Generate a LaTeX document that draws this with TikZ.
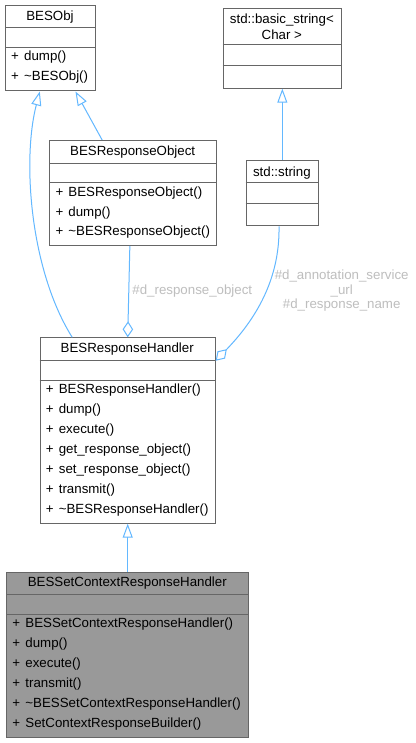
\documentclass[tikz,border=0pt]{standalone}
\usepackage{fontspec}
\setmainfont{Liberation Sans}
\usetikzlibrary{arrows.meta}
\definecolor{boxgray}{HTML}{666666}
\definecolor{edgeblue}{HTML}{63B8FF}
\definecolor{lblgray}{HTML}{BEBEBE}
\definecolor{darkfill}{HTML}{999999}
\newcommand\plusm{+\hspace{1.5pt} }
\tikzset{
  cls/.style={draw=boxgray, line width=1pt, inner sep=0pt, anchor=north west, fill=white},
  clsdark/.style={cls, fill=darkfill},
  divline/.style={draw=boxgray, line width=1pt},
  ttl/.style={inner sep=0pt, anchor=center},
  mth/.style={inner sep=0pt, anchor=west},
  elbl/.style={inner sep=0pt, anchor=center, text=lblgray},
  edge/.style={draw=edgeblue, line width=1pt},
  inh/.style={-{Triangle[open, length=14pt, width=10pt, fill=white, line width=1pt]}},
  agg/.style={-{Diamond[open, length=16pt, width=10.5pt, fill=white, line width=1pt]}},
}
\begin{document}
\begin{tikzpicture}[x=1pt, y=-1pt, font=\fontsize{13.3}{16}\selectfont]
\useasboundingbox (0,0) rectangle (415,743);
\fill[white] (0,0) rectangle (415,743);

% BESObj
\node[cls, minimum width=90pt, minimum height=85.5pt] (besobj) at (5,5) {};
\draw[divline] (5,27.5) -- (95,27.5);
\draw[divline] (5,47.7) -- (95,47.7);
\node[ttl] (besobjT) at (50,17) {BESObj};
\node[mth] (besobjM1) at (11,57.5) {\plusm dump()};
\node[mth] (besobjM2) at (11,77.5) {\plusm \textasciitilde BESObj()};

% std::basic_string< Char >
\node[cls, minimum width=118.3pt, minimum height=80pt] (bstr) at (222.7,7.7) {};
\draw[divline] (222.7,45) -- (341,45);
\draw[divline] (222.7,65.3) -- (341,65.3);
\node[ttl] (bstrT1) at (281.85,20.5) {std::basic\_string<};
\node[ttl] (bstrT2) at (281.85,35) {Char >};

% BESResponseObject
\node[cls, minimum width=166.7pt, minimum height=105pt] (besro) at (49.3,140) {};
\draw[divline] (49.3,163.3) -- (216,163.3);
\draw[divline] (49.3,183) -- (216,183);
\node[ttl] (besroT) at (132.65,152.5) {BESResponseObject};
\node[mth] (besroM1) at (55.3,193) {\plusm BESResponseObject()};
\node[mth] (besroM2) at (55.3,212.7) {\plusm dump()};
\node[mth] (besroM3) at (55.3,232.5) {\plusm \textasciitilde BESResponseObject()};

% std::string
\node[cls, minimum width=72.3pt, minimum height=65.6pt] (sstr) at (245.7,159.7) {};
\draw[divline] (245.7,183) -- (318,183);
\draw[divline] (245.7,203.3) -- (318,203.3);
\node[ttl] (sstrT) at (281.85,172.7) {std::string};

% BESResponseHandler
\node[cls, minimum width=175pt, minimum height=185.4pt] (besrh) at (39.7,337.3) {};
\draw[divline] (39.7,360.3) -- (214.7,360.3);
\draw[divline] (39.7,380.3) -- (214.7,380.3);
\node[ttl] (besrhT) at (127.2,349.5) {BESResponseHandler};
\node[mth] (besrhM1) at (45.7,390.3) {\plusm BESResponseHandler()};
\node[mth] (besrhM2) at (45.7,410.3) {\plusm dump()};
\node[mth] (besrhM3) at (45.7,430.3) {\plusm execute()};
\node[mth] (besrhM4) at (45.7,450.3) {\plusm get\_response\_object()};
\node[mth] (besrhM5) at (45.7,470.3) {\plusm set\_response\_object()};
\node[mth] (besrhM6) at (45.7,490.3) {\plusm transmit()};
\node[mth] (besrhM7) at (45.7,509.8) {\plusm \textasciitilde BESResponseHandler()};

% BESSetContextResponseHandler
\node[clsdark, minimum width=242pt, minimum height=165.6pt] (bessc) at (6.3,571.7) {};
\draw[divline] (6.3,594) -- (248.3,594);
\draw[divline] (6.3,614.3) -- (248.3,614.3);
\node[ttl] (besscT) at (127.3,583.5) {BESSetContextResponseHandler};
\node[mth] (besscM1) at (12.3,624.3) {\plusm BESSetContextResponseHandler()};
\node[mth] (besscM2) at (12.3,644.3) {\plusm dump()};
\node[mth] (besscM3) at (12.3,664.3) {\plusm execute()};
\node[mth] (besscM4) at (12.3,684.3) {\plusm transmit()};
\node[mth] (besscM5) at (12.3,704.3) {\plusm \textasciitilde BESSetContextResponseHandler()};
\node[mth] (besscM6) at (12.3,724) {\plusm SetContextResponseBuilder()};

% connectors
\draw[edge, inh] ([xshift=-31pt]besro.north) -- ([xshift=25pt]besobj.south);
\draw[edge, inh] ([xshift=-55.5pt]besrh.north) .. controls (30,270) and (22,160) .. ([xshift=-10.7pt]besobj.south);
\draw[edge, inh] (sstr.north) -- (bstr.south);
\draw[edge, agg] ([xshift=-3.3pt]besro.south) -- (besrh.north);
\draw[edge, agg] ([xshift=-3.35pt]sstr.south) .. controls (280,280) and (255,320) .. ([yshift=-23.4pt]besrh.north east);
\draw[edge, inh] (bessc.north -| besrh.south) -- (besrh.south);

% edge labels
\node[elbl] (lblro) at (192.3,290.7) {\#d\_response\_object};
\node[elbl] (lbls1) at (341.7,275.7) {\#d\_annotation\_service};
\node[elbl] (lbls2) at (341.7,290.7) {\_url};
\node[elbl] (lbls3) at (341.7,304.7) {\#d\_response\_name};
\end{tikzpicture}
\end{document}
